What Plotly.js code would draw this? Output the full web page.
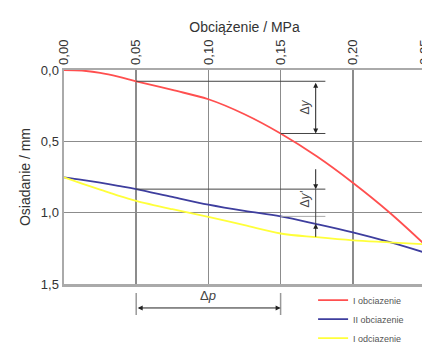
<!DOCTYPE html>
<html>
<head>
<meta charset="utf-8">
<script src="https://cdn.plot.ly/plotly-3.0.1.min.js"></script>
<style>
html,body{margin:0;padding:0;overflow:hidden;background:#fff;}
#chart{width:425px;height:343px;}
</style>
</head>
<body>
<div id="chart"></div>
<script>
// Load (MPa)
const loadMPa = [0, 0.0125, 0.025, 0.0375, 0.05, 0.075, 0.10, 0.125, 0.15, 0.175, 0.20, 0.225, 0.25];
// Settlement (mm)
const firstLoading   = [0, 0.004, 0.020, 0.046, 0.079, 0.140, 0.205, 0.310, 0.445, 0.605, 0.790, 0.995, 1.225];
const secondLoading  = [0.752, 0.770, 0.790, 0.812, 0.835, 0.890, 0.944, 0.988, 1.026, 1.080, 1.138, 1.205, 1.280];
const firstUnloading = [0.752, 0.796, 0.838, 0.880, 0.917, 0.976, 1.030, 1.088, 1.146, 1.172, 1.194, 1.208, 1.222];
const seriesNames = ['I obciazenie', 'II obciazenie', 'I odciazenie'];
const seriesColors = ['#ff4f4f', '#3e3e9e', '#ffff3a'];
const xTicks = [0, 0.05, 0.10, 0.15, 0.20, 0.25];
const yTicks = [0, 0.5, 1.0, 1.5];
// dimension references (load values)
const pStart = 0.05, pEnd = 0.15, dimX = 0.1743, dimEndX = 0.181;

const iS = loadMPa.indexOf(pStart), iE = loadMPa.indexOf(pEnd);
const ySeries = [firstLoading, secondLoading, firstUnloading];

const traces = ySeries.map((ys, k) => ({
  x: loadMPa, y: ys, type: 'scatter', mode: 'lines',
  name: seriesNames[k],
  line: {color: seriesColors[k], width: 1.8, shape: 'spline', smoothing: 1}
}));

const dimColor = '#444';
const shapes = [
  {type:'line', xref:'x', yref:'y', x0:pStart, x1:dimEndX, y0:firstLoading[iS], y1:firstLoading[iS], line:{color:dimColor, width:1}},
  {type:'line', xref:'x', yref:'y', x0:pEnd, x1:dimEndX, y0:firstLoading[iE], y1:firstLoading[iE], line:{color:dimColor, width:1}},
  {type:'line', xref:'x', yref:'y', x0:pStart, x1:dimEndX, y0:secondLoading[iS], y1:secondLoading[iS], line:{color:dimColor, width:1}},
  {type:'line', xref:'x', yref:'y', x0:pEnd, x1:dimEndX, y0:secondLoading[iE], y1:secondLoading[iE], line:{color:'#aaa', width:1}},
  {type:'line', xref:'x', yref:'y', x0:dimX, x1:dimX, y0:secondLoading[iS], y1:1.077, line:{color:dimColor, width:1}},
  {type:'line', xref:'x', yref:'paper', x0:pStart, x1:pStart, y0:-0.042, y1:-0.145, line:{color:'#999', width:1.5}},
  {type:'line', xref:'x', yref:'paper', x0:pEnd, x1:pEnd, y0:-0.042, y1:-0.145, line:{color:'#999', width:1.5}}
];

const arrowBase = {text:'', showarrow:true, arrowhead:2, arrowsize:1, arrowwidth:1, arrowcolor:'#222', standoff:0, startstandoff:0};
const annotations = [
  Object.assign({}, arrowBase, {xref:'x', yref:'y', axref:'x', ayref:'y', x:dimX, y:firstLoading[iE], ax:dimX, ay:firstLoading[iS], arrowside:'end+start'}),
  Object.assign({}, arrowBase, {xref:'x', yref:'y', axref:'x', ayref:'y', x:dimX, y:secondLoading[iS], ax:dimX, ay:0.685}),
  Object.assign({}, arrowBase, {xref:'x', yref:'y', axref:'x', ayref:'y', x:dimX, y:1.077, ax:dimX, ay:1.18}),
  Object.assign({}, arrowBase, {xref:'x', yref:'paper', axref:'x', ayref:'pixel', x:pEnd, y:-0.112, ax:pStart, ay:0, arrowside:'end+start'}),
  {xref:'x', yref:'y', x:0.167, y:(firstLoading[iS]+firstLoading[iE])/2, text:'Δ<i>y</i>', showarrow:false, textangle:-90, font:{family:'Liberation Sans, Arial, sans-serif', size:12, color:'#444'}},
  {xref:'x', yref:'y', x:0.167, y:0.906, text:"Δ<i>y'</i>", showarrow:false, textangle:-90, font:{family:'Liberation Sans, Arial, sans-serif', size:12, color:'#444'}},
  {xref:'x', yref:'paper', x:(pStart+pEnd)/2, y:-0.055, yanchor:'middle', text:'Δ<i>p</i>', showarrow:false, font:{family:'Liberation Sans, Arial, sans-serif', size:13, color:'#444'}}
];

const layout = {
  width: 425, height: 343,
  margin: {l: 64, r: 0, t: 70, b: 59, autoexpand: false},
  paper_bgcolor: '#fff', plot_bgcolor: '#fff',
  separators: ', ',
  font: {family: 'Liberation Sans, Arial, sans-serif', size: 13, color: '#333'},
  showlegend: true,
  legend: {x: 0.69, y: -0.008, xanchor: 'left', yanchor: 'top', bgcolor: 'rgba(0,0,0,0)',
           font: {size: 9, color: '#555'}},
  xaxis: {
    side: 'top', range: [0, 0.25], tickvals: xTicks, tickformat: '.2f', tickangle: -90,
    ticklabeloverflow: 'allow',
    showgrid: true, gridcolor: '#8c8c8c', gridwidth: 1.5,
    showline: true, linecolor: '#aaa', linewidth: 2.5, mirror: true,
    ticks: '', zeroline: false, fixedrange: true, automargin: false,
    title: {text: 'Obciążenie / MPa', font: {size: 14, color: '#333'}, standoff: 4}
  },
  yaxis: {
    range: [1.5, 0], tickvals: yTicks, tickformat: '.1f',
    showgrid: true, gridcolor: '#8c8c8c', gridwidth: 1.5,
    showline: true, linecolor: '#aaa', linewidth: 2.5, mirror: true,
    ticks: '', zeroline: false, fixedrange: true, automargin: false,
    title: {text: 'Osiadanie / mm', font: {size: 14, color: '#333'}, standoff: 7}
  },
  shapes: shapes,
  annotations: annotations
};

Plotly.newPlot('chart', traces, layout, {staticPlot: true, displayModeBar: false});
</script>
</body>
</html>
